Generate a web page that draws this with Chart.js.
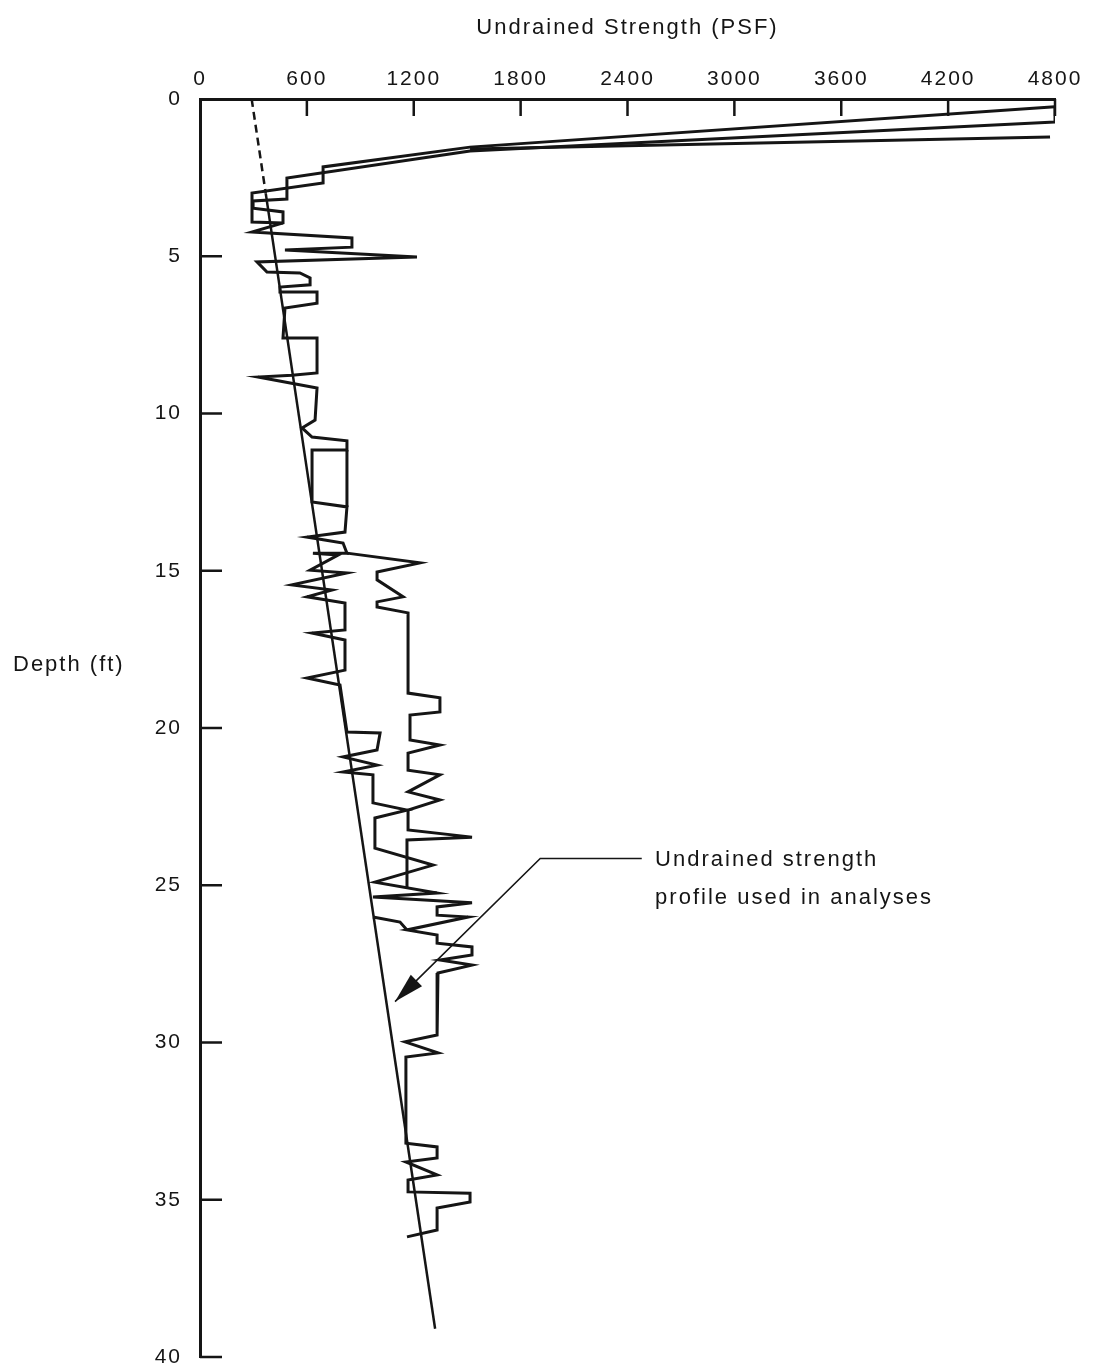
<!DOCTYPE html>
<html>
<head>
<meta charset="utf-8">
<title>Undrained Strength Profile</title>
<script src="https://cdn.jsdelivr.net/npm/chart.js@4.4.0/dist/chart.umd.min.js"></script>
<style>
  html, body { margin: 0; padding: 0; background: #fff; overflow: hidden; }
  #wrap { width: 1095px; height: 1372px; }
</style>
</head>
<body>
<div id="wrap"><canvas id="strengthChart" width="1095" height="1372"></canvas></div>
<script>
// cone trace, surface downwards; a null starts a new stroke
const traceStrength = [
  4800, 4800, 1516, 488, 488, 298, 298, 466, 466, 292, 853, 853, 477, 1218, 320, 376, 561, 618, 618, 449,
  449, 657, 657, 477, 466, 657, 657, 516, 326, 657, 646, 573, 629, 825, 825, 629, 629, 825, 814, 601,
  803, 825, 634, 775, 618, 825, 516, 741, 601, 814, 814, 629, 814, 814, 601, 786, 825, 1011, 994, 803,
  994, 803, 971, 971, 1162, 982, 982, 1308, 982, 1331, 971, 1527, 1331, 1331, 1505, 1162, 1331, 1331, 1527, 1527,
  1347, 1527, 1336, 1331, 1151, 1336, 1156, 1156, 1331, 1331, 1156, 1331, 1168, 1168, 1516, 1516, 1331, 1331, 1162,
  null, 4772, 1516,
  null, 4800, 1516, 691, 691, 292, 292, 466,
  null, 825, 825,
  null, 971, 1123, 1162
];
const traceDepth = [
  0.25, 0.73, 1.65, 2.51, 3.18, 3.24, 3.47, 3.59, 3.94, 4.23, 4.42, 4.71, 4.80, 5.02, 5.18, 5.50, 5.53, 5.69, 5.91, 5.98,
  6.14, 6.14, 6.49, 6.65, 7.60, 7.60, 8.71, 8.78, 8.84, 9.19, 10.21, 10.46, 10.75, 10.87, 11.16, 11.16, 12.81, 12.97, 13.77, 13.93,
  14.12, 14.44, 14.44, 14.50, 14.98, 15.07, 15.45, 15.61, 15.83, 16.03, 16.88, 16.98, 17.20, 18.16, 18.41, 18.63, 20.13, 20.16, 20.70, 20.92,
  21.18, 21.40, 21.49, 22.38, 22.61, 22.86, 23.82, 24.36, 24.90, 25.25, 25.37, 25.56, 25.69, 25.95, 26.01, 26.42, 26.58, 26.84, 26.96, 27.22,
  27.38, 27.54, 27.79, 29.76, 29.98, 30.33, 30.46, 33.20, 33.32, 33.67, 33.80, 34.21, 34.37, 34.75, 34.79, 35.07, 35.26, 35.96, 36.18,
  null, 1.21, 1.59,
  null, 0.25, 1.53, 2.16, 2.67, 2.99, 3.91, 3.94,
  null, 11.16, 12.97,
  null, 26.01, 26.17, 26.42
];

// second trace that splits off between about 14 and 25 ft
const branchStrength = [
  825, 1235, 994, 994, 1140, 994, 994, 1168, 1168, 1347, 1347, 1179, 1179, 1347, 1168, 1168, 1347, 1168, 1347, 1168,
  1168, 1527, 1162, 1162
];
const branchDepth = [
  14.44, 14.75, 15.04, 15.29, 15.83, 15.99, 16.15, 16.34, 18.89, 19.04, 19.49, 19.59, 20.38, 20.54, 20.80, 21.34, 21.49, 22.03, 22.29, 22.61,
  23.24, 23.47, 23.56, 25.10
];

// straight-line profile used in the analyses, dashed above 3 ft
const designStrength = [290, 369, 1320];
const designDepth = [0, 3, 39.1];

const strengthTicks = [0, 600, 1200, 1800, 2400, 3000, 3600, 4200, 4800];
const depthTicks = [0, 5, 10, 15, 20, 25, 30, 35, 40];

const ink = "#151515";
const fontFamily = '"Liberation Sans", Arial, Helvetica, sans-serif';

// split a pair of arrays into separate strokes at each null
function strokes(xs, ys) {
  const out = [];
  let cur = [];
  xs.forEach((x, i) => {
    if (x === null || ys[i] === null) {
      if (cur.length) out.push(cur);
      cur = [];
    } else {
      cur.push({ x: x, y: ys[i] });
    }
  });
  if (cur.length) out.push(cur);
  return out;
}

const lineStyle = {
  showLine: true,
  borderColor: ink,
  borderWidth: 3,
  pointRadius: 0,
  fill: false,
  tension: 0,
};

const datasets = [];
strokes(traceStrength, traceDepth)
  .concat(strokes(branchStrength, branchDepth))
  .forEach((pts) => datasets.push({ ...lineStyle, data: pts }));

datasets.push({
  ...lineStyle,
  borderWidth: 2.5,
  data: designStrength.map((v, i) => ({ x: v, y: designDepth[i] })),
  segment: {
    borderDash: (ctx) => (ctx.p0DataIndex === 0 ? [8, 5] : undefined),
  },
});

// scanned lettering is a little wider than Arial
const spacing = {
  id: "spacing",
  beforeLayout(chart) {
    chart.ctx.letterSpacing = "2px";
  },
  beforeDraw(chart) {
    chart.ctx.letterSpacing = "2px";
  },
};

// inner tick marks, the depth label and the arrow note
const extras = {
  id: "extras",
  afterDraw(chart) {
    const { ctx, chartArea } = chart;
    const xs = chart.scales.x;
    const ys = chart.scales.y;
    ctx.save();
    ctx.strokeStyle = ink;
    ctx.fillStyle = ink;
    ctx.lineWidth = 2.5;

    ctx.beginPath();
    strengthTicks.forEach((v) => {
      if (!v) return;
      const px = xs.getPixelForValue(v);
      ctx.moveTo(px, chartArea.top);
      ctx.lineTo(px, chartArea.top + 17);
    });
    depthTicks.forEach((v) => {
      if (!v) return;
      const py = ys.getPixelForValue(v);
      ctx.moveTo(chartArea.left, py);
      ctx.lineTo(chartArea.left + 22, py);
    });
    ctx.stroke();

    ctx.font = "22px " + fontFamily;
    ctx.textBaseline = "middle";
    ctx.textAlign = "left";
    ctx.fillText("Depth (ft)", chartArea.left - 187, ys.getPixelForValue(18.0));

    // leader from the note down to the design line
    const tipX = xs.getPixelForValue(1095);
    const tipY = ys.getPixelForValue(28.7);
    const elbowX = xs.getPixelForValue(1910);
    const elbowY = ys.getPixelForValue(24.15);
    const endX = xs.getPixelForValue(2480);
    ctx.lineWidth = 1.6;
    ctx.beginPath();
    ctx.moveTo(endX, elbowY);
    ctx.lineTo(elbowX, elbowY);
    ctx.lineTo(tipX, tipY);
    ctx.stroke();

    const ang = Math.atan2(tipY - elbowY, tipX - elbowX);
    const len = 30;
    const half = 8;
    const bx = tipX - len * Math.cos(ang);
    const by = tipY - len * Math.sin(ang);
    ctx.beginPath();
    ctx.moveTo(tipX, tipY);
    ctx.lineTo(bx + half * Math.sin(ang), by - half * Math.cos(ang));
    ctx.lineTo(bx - half * Math.sin(ang), by + half * Math.cos(ang));
    ctx.closePath();
    ctx.fill();

    const noteX = xs.getPixelForValue(2555);
    ctx.fillText("Undrained strength", noteX, ys.getPixelForValue(24.2));
    ctx.fillText("profile used in analyses", noteX, ys.getPixelForValue(25.4));
    ctx.restore();
  },
};

new Chart(document.getElementById("strengthChart"), {
  type: "scatter",
  data: { datasets: datasets },
  options: {
    responsive: false,
    animation: false,
    events: [],
    layout: { padding: { top: 4, left: 142, right: 40, bottom: 15 } },
    plugins: {
      legend: { display: false },
      tooltip: { enabled: false },
    },
    scales: {
      x: {
        type: "linear",
        position: "top",
        min: 0,
        max: 4800,
        afterBuildTicks: (axis) => {
          axis.ticks = strengthTicks.map((v) => ({ value: v }));
        },
        afterFit: (axis) => {
          axis.height = 95;
          axis.paddingLeft = 0;
          axis.paddingRight = 0;
        },
        grid: { display: false },
        border: { display: true, color: ink, width: 3 },
        ticks: {
          color: ink,
          padding: -1,
          autoSkip: false,
          maxRotation: 0,
          callback: (v) => String(v),
          font: { family: fontFamily, size: 21 },
        },
        title: {
          display: true,
          text: "Undrained Strength (PSF)",
          color: ink,
          padding: { top: 11, bottom: 25 },
          font: { family: fontFamily, size: 22 },
        },
      },
      y: {
        type: "linear",
        position: "left",
        reverse: true,
        min: 0,
        max: 40,
        afterBuildTicks: (axis) => {
          axis.ticks = depthTicks.map((v) => ({ value: v }));
        },
        afterFit: (axis) => {
          axis.width = 58;
          axis.paddingTop = 0;
          axis.paddingBottom = 0;
        },
        grid: { display: false },
        border: { display: true, color: ink, width: 3 },
        ticks: {
          color: ink,
          padding: 10,
          callback: (v) => String(v),
          font: { family: fontFamily, size: 21 },
        },
      },
    },
  },
  plugins: [spacing, extras],
});
</script>
</body>
</html>
